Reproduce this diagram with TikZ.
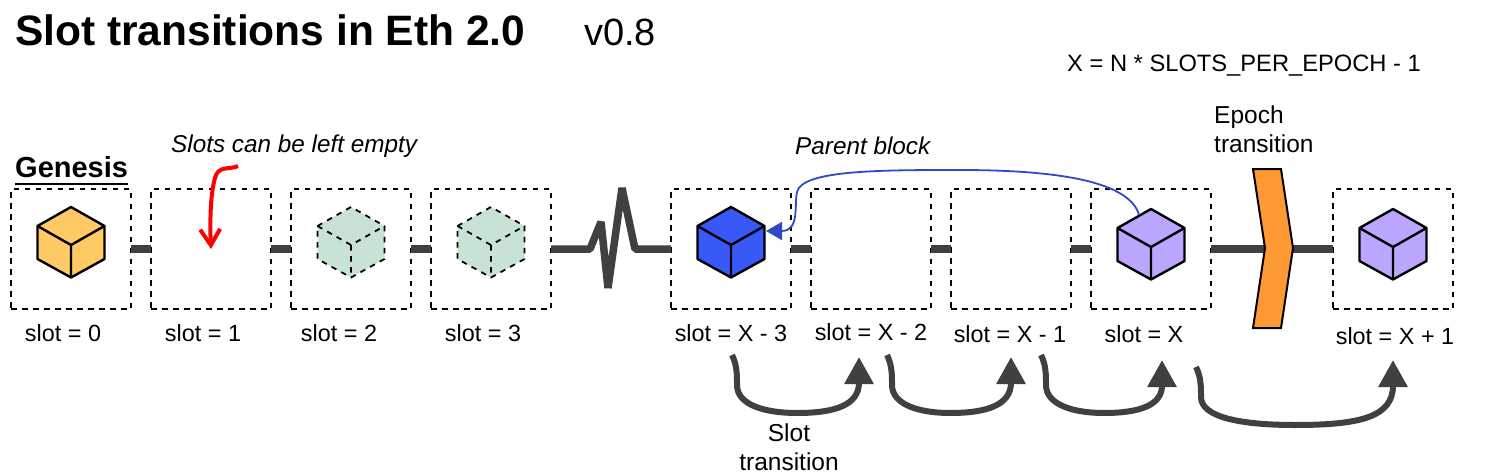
\documentclass[tikz,border=0pt]{standalone}
\usepackage{fontspec}
\setmainfont{Liberation Sans}
\usetikzlibrary{arrows.meta}
\definecolor{linkgrey}{HTML}{404040}
\definecolor{genesisfill}{HTML}{FFC965}
\definecolor{ghostfill}{HTML}{C8E2D4}
\definecolor{parentfill}{HTML}{3858F8}
\definecolor{blockfill}{HTML}{BBA6FF}
\definecolor{parentline}{HTML}{2F4AC4}
\definecolor{epochfill}{HTML}{FF9933}
\newcommand{\cube}[4]{% name, x, y, fill+style
  \coordinate (#1) at (#2,#3);
  \begin{scope}[shift={(#2,#3)},#4]
    \fill[cubefill] (-33.5,-22) -- (0,-41) -- (33.5,-22) -- (33.5,11) -- (0,29.5) -- (-33.5,11) -- cycle;
    \draw[cubeline] (-33.5,-22) -- (0,-41) -- (33.5,-22) -- (33.5,11) -- (0,29.5) -- (-33.5,11) -- cycle;
    \draw[cubeline] (-33.5,-22) -- (0,-3) -- (33.5,-22) (0,-3) -- (0,29.5);
  \end{scope}}
\newcommand{\transpath}[4]{% start, tip, start x, bottom y
  \draw[transarrow] (#1) .. controls ($(#1)+(5,10)$) and ($(#1)+(5,20)$) .. ($(#1)+(5,30)$) .. controls ($(#1)+(5,#4-11)$) and ($(#1)+(32,#4)$) .. ($(#1)!0.5!(#2)+(0,0)$ |- 0,#3) .. controls ($(#2)+(-30,#4-9)$) and ($(#2)+(0,#4-18)$) .. (#2);}
\usetikzlibrary{calc}
\tikzset{
  slotbox/.style={draw=black,line width=1.8pt,dash pattern=on 5.5pt off 5.5pt,minimum width=120pt,minimum height=120pt,inner sep=0pt,outer sep=0pt},
  link/.style={draw=linkgrey,line width=7.5pt},
  slotlabel/.style={font=\fontsize{23.4}{28}\selectfont,inner sep=0pt,anchor=center},
  plaintext/.style={font=\fontsize{24.5}{29}\selectfont,inner sep=0pt,align=left},
  italictext/.style={font=\fontsize{24.3}{28}\selectfont\itshape,inner sep=0pt},
  transarrow/.style={draw=linkgrey,line width=6pt,-{Triangle[length=27pt,width=28pt]}},
  cubefill/.style={fill=cubecol},
  cubeline/.style={draw=black,line width=2.4pt,line join=round},
  ghostline/.style={draw=black,line width=1.8pt,dash pattern=on 5.5pt off 5.5pt},
}
\begin{document}
\begin{tikzpicture}[x=1pt,y=-1pt]
\useasboundingbox (0,0) rectangle (1504,476);
\fill[white] (0,0) rectangle (1504,476);
% title
\node[inner sep=0pt,anchor=west,font=\fontsize{42.5}{48}\selectfont\bfseries] (title) at (15,30) {Slot transitions in Eth 2.0};
\node[inner sep=0pt,anchor=west,font=\fontsize{38}{44}\selectfont] (version) at (584,32) {v0.8};
\node[inner sep=0pt,anchor=west,font=\fontsize{23.7}{28}\selectfont] (formula) at (1067,66) {X = N * SLOTS\_PER\_EPOCH - 1};
\node[inner sep=0pt,anchor=west,font=\fontsize{29}{34}\selectfont\bfseries] (genesis) at (15,167) {Genesis};
\coordinate (gul) at (15,184);
\coordinate (gur) at (128,184);
\draw[black,line width=2pt] (gul) -- (gur);
\node[italictext,anchor=west] (empty) at (171,146) {Slots can be left empty};
\node[italictext,anchor=west] (parent) at (795,146) {Parent block};
\node[plaintext,anchor=north west] (epoch) at (1214,106) {Epoch\\transition};
\node[plaintext,anchor=north,align=center] (slottrans) at (789,424) {Slot\\transition};
% slot boxes
\foreach \n/\x in {a/71,b/211,c/351,d/491,e/731,f/871,g/1011,h/1151,i/1393}
  \node[slotbox] (\n) at (\x,249) {};
% labels
\node[slotlabel] (la) at (63,333) {slot = 0};
\node[slotlabel] (lb) at (203,333) {slot = 1};
\node[slotlabel] (lc) at (339,333) {slot = 2};
\node[slotlabel] (ld) at (483,333) {slot = 3};
\node[slotlabel] (le) at (731,333) {slot = X - 3};
\node[slotlabel] (lf) at (871,332) {slot = X - 2};
\node[slotlabel] (lg) at (1010,334) {slot = X - 1};
\node[slotlabel] (lh) at (1144,334) {slot = X};
\node[slotlabel] (li) at (1395,336) {slot = X + 1};
% links
\draw[link] (a.east) -- (b.west);
\draw[link] (b.east) -- (c.west);
\draw[link] (c.east) -- (d.west);
\draw[link] (e.east) -- (f.west);
\draw[link] (f.east) -- (g.west);
\draw[link] (g.east) -- (h.west);
\draw[link] (h.east) -- (i.west);
\draw[link,line join=bevel] (d.east) -- (590,249) -- (601,222) -- (608,288) -- (622,188) -- (635,249) -- (e.west);
% epoch chevron
\draw[black,line width=2pt,fill=epochfill,line join=miter] (1253,169) -- (1281,169) -- (1293,248) -- (1281,328) -- (1253,328) -- (1265,248) -- cycle;
% cubes
\colorlet{cubecol}{genesisfill}
\cube{ca}{71}{248}{}
\colorlet{cubecol}{ghostfill}
\cube{cc}{351}{248}{cubeline/.style={ghostline}}
\cube{cd}{491}{248}{cubeline/.style={ghostline}}
\colorlet{cubecol}{parentfill}
\cube{ce}{731}{248}{}
\colorlet{cubecol}{blockfill}
\cube{ch}{1151}{250}{}
\cube{ci}{1393}{250}{}
% red note arrow
\coordinate (redstart) at (238,166);
\coordinate (redend) at (211,249);
\draw[red,line width=4pt,-{Straight Barb[length=16pt,width=20pt]}] (redstart) .. controls (230,170) and (218,165) .. (215,178) .. controls (210,195) and (210,225) .. (redend);
% parent arrow
\coordinate (parentstart) at (1139,215);
\coordinate (parentend) at (766,231);
\draw[parentline,line width=1.8pt,-{Triangle[length=16pt,width=18pt]}] (parentstart) .. controls (1130,182) and (1060,170) .. (960,170) .. controls (880,170) and (802,170) .. (797,192) .. controls (794,205) and (800,231) .. (parentend);
% transition arrows
\coordinate (s1) at (732,355); \coordinate (t1) at (859,357);
\coordinate (s2) at (887,355); \coordinate (t2) at (1011,357);
\coordinate (s3) at (1041,355); \coordinate (t3) at (1162,360);
\coordinate (s4) at (1196,367); \coordinate (t4) at (1393,360);
\coordinate (b1) at (797,413); \coordinate (b2) at (950,413); \coordinate (b3) at (1104,413); \coordinate (b4) at (1295,425);
\draw[transarrow] (s1) .. controls (737,365) and (737,375) .. (737,385) .. controls (737,405) and (765,413) .. (b1) .. controls (835,413) and (859,405) .. (t1);
\draw[transarrow] (s2) .. controls (892,365) and (892,375) .. (892,385) .. controls (892,405) and (920,413) .. (b2) .. controls (987,413) and (1011,405) .. (t2);
\draw[transarrow] (s3) .. controls (1046,365) and (1046,375) .. (1046,385) .. controls (1046,405) and (1074,413) .. (b3) .. controls (1140,413) and (1162,405) .. (t3);
\draw[transarrow] (s4) .. controls (1201,377) and (1201,387) .. (1201,397) .. controls (1201,417) and (1240,425) .. (b4) .. controls (1360,425) and (1393,417) .. (t4);
\end{tikzpicture}
\end{document}
